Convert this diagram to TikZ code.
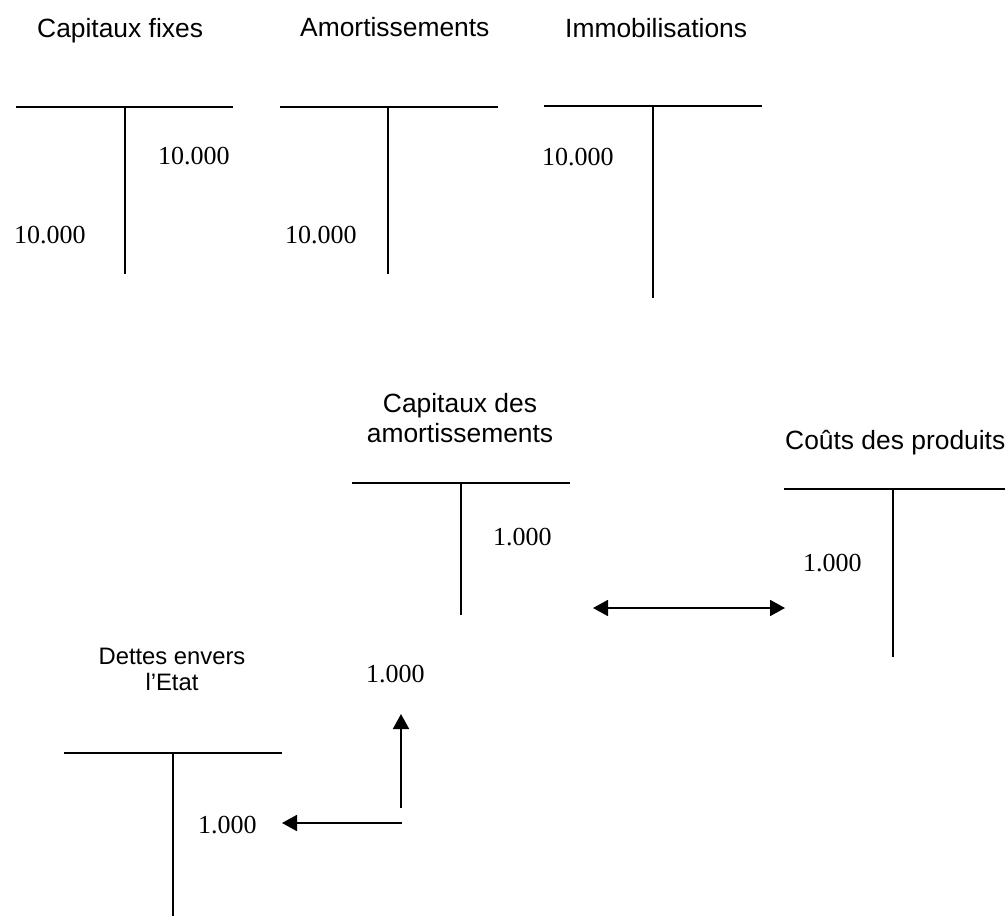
\documentclass[tikz,border=0pt]{standalone}
\usepackage{fontspec}
\setmainfont{Liberation Serif}
\newfontfamily\arialf{Liberation Sans}
\usetikzlibrary{arrows.meta}
\tikzset{
  tline/.style={line width=1.8pt},
  lab/.style={font=\arialf\fontsize{26.4}{30}\selectfont, inner sep=0pt},
  smalllab/.style={font=\arialf\fontsize{23.8}{26}\selectfont, inner sep=0pt},
  num/.style={font=\fontsize{26}{30}\selectfont, inner sep=0pt, anchor=base west},
  arr/.style={line width=1.8pt, -{Triangle[length=15pt,width=16pt]}},
  darr/.style={line width=1.8pt, {Triangle[length=15pt,width=16pt]}-{Triangle[length=15pt,width=16pt]}}
}
\begin{document}
\begin{tikzpicture}[x=1pt,y=-1pt]
\useasboundingbox (0,0) rectangle (1005,916);
% Capitaux fixes
\node[lab, anchor=base west] (l1) at (37,37) {Capitaux fixes};
\draw[tline] (16,107) -- (233,107);
\draw[tline] (125,107) -- (125,274);
\node[num] (n1a) at (158,164) {10.000};
\node[num] (n1b) at (14,243) {10.000};
% Amortissements
\node[lab, anchor=base west] (l2) at (300,36) {Amortissements};
\draw[tline] (280,107) -- (498,107);
\draw[tline] (388,107) -- (388,274);
\node[num] (n2) at (285,243) {10.000};
% Immobilisations
\node[lab, anchor=base west] (l3) at (565,37) {Immobilisations};
\draw[tline] (544,106) -- (762,106);
\draw[tline] (653,106) -- (653,298);
\node[num] (n3) at (542,165) {10.000};
% Capitaux des amortissements
\node[lab, align=center, anchor=base] (l4) at (460,442) {Capitaux des\\amortissements};
\draw[tline] (352,483) -- (570,483);
\draw[tline] (461,483) -- (461,615);
\node[num] (n4) at (493,545) {1.000};
\node[num] (n4b) at (366,682) {1.000};
% Couts des produits
\node[lab, anchor=base west] (l5) at (785,449) {Coûts des produits};
\draw[tline] (784,489) -- (1005,489);
\draw[tline] (893,489) -- (893,657);
\node[num] (n5) at (803,571) {1.000};
% Dettes envers l'Etat
\node[smalllab, align=center, anchor=base] (l6) at (172,690) {Dettes envers\\l’Etat};
\draw[tline] (64,753) -- (282,753);
\draw[tline] (173,753) -- (173,916);
\node[num] (n6) at (198,833) {1.000};
% arrows
\coordinate (da) at (593,608);
\coordinate (db) at (785,608);
\draw[darr] (da) -- (db);
\coordinate (ua) at (401,808);
\coordinate (ub) at (401,714);
\draw[arr] (ua) -- (ub);
\coordinate (la) at (402,823);
\coordinate (lb) at (282,823);
\draw[arr] (la) -- (lb);
\end{tikzpicture}
\end{document}
